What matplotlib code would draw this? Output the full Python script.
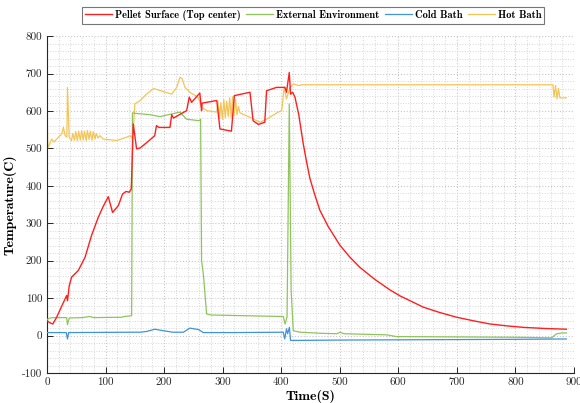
import matplotlib
matplotlib.use("Agg")
import matplotlib.pyplot as plt
from matplotlib.ticker import MultipleLocator

plt.rcParams["axes.unicode_minus"] = False

# Pellet Surface (Top center)
pellet_t = [0, 5, 10, 16.5, 25, 33.6, 35, 38, 42, 53.5, 65, 76, 87.6, 96, 104.7,
            112, 121.8, 129, 135, 140.6, 144, 147.4, 153, 158.8, 170, 184, 187,
            191, 210, 213, 216, 238.5, 243, 247, 261, 264, 265, 290, 295.4, 315,
            320, 346.7, 352, 361, 372, 375, 392, 406.4, 409, 413.8, 416, 419.5,
            423.5, 430, 437.7, 443, 449, 457, 466, 480, 500, 517, 534.5, 560,
            585.7, 603, 642.6, 670, 699.6, 730, 756.5, 785, 813, 850, 887]
pellet_T = [40, 34, 31, 49, 78, 107, 93, 133, 156, 174, 209, 267, 316, 345, 371,
            329, 347, 378, 385, 383, 392, 565, 499, 501, 515, 534, 561,
            556, 556, 590, 581, 601, 637, 623, 648, 601, 621, 628, 552, 546,
            641, 650, 574, 564, 570, 654, 663, 663, 650, 703, 645, 650,
            637, 590, 512, 467, 420, 378, 335, 292, 242, 210, 182, 150,
            122, 106, 76, 62, 49, 39, 31, 26, 22, 19, 17]

# External Environment
env_t = [0, 3, 10, 33.6, 35, 38, 60, 73, 80, 127.5, 132, 144.6, 146, 149, 176,
         193, 227, 238.5, 260, 262.4, 264, 267, 272.6, 280, 340, 403.6, 406.5,
         410, 413.8, 417, 420.6, 432, 470, 495, 501, 507, 580, 597, 700, 800,
         862, 870, 879, 887]
env_T = [42, 46, 48, 48, 29, 47, 48, 51, 48, 49, 51, 53, 595, 594, 590,
         585, 597, 578, 574, 578, 200, 165, 58, 55, 53, 51, 31,
         50, 619, 120, 13, 9, 6, 5, 9, 5, 2, -2.7, -3.5, -4.5,
         -6, 4.5, 7, 7]

# Cold Bath
cold_t = [0, 33, 35, 37, 145, 159, 170, 184, 199, 215, 233, 244, 259, 267, 320,
          403.6, 406, 409, 411, 414, 416, 500, 650, 800, 887]
cold_T = [8, 8, -9, 8, 9, 9, 11, 17, 13, 9, 9, 20, 16, 8, 8,
          9, -9, 18, 5, 22, -13, -12, -11, -10, -9]

# Hot Bath
hot_t = [0, 1.5, 8, 12, 19.4, 25, 28, 31, 34, 35, 38, 42,
         44, 47, 49, 52, 54, 57, 59, 62, 64, 67, 69, 72, 74, 77, 79, 82, 84, 87,
         90.5, 96, 119, 136, 142, 145, 147.4, 150, 159, 170, 182, 213, 221.5,
         227, 231, 235.7, 244, 258, 264, 272.7, 290,
         292, 294.5, 297, 299.5, 302, 304.5, 307, 309.5, 312, 314.5, 317, 319.5,
         322, 324.5, 327, 329.6, 346.7, 363.7, 375, 395, 401, 405, 409, 415,
         420.7, 430, 435, 864, 866, 868.5, 871, 873.5, 876, 887]
hot_T = [610, 501, 525, 517, 530, 538, 556, 534, 530, 663, 530, 521,
         540, 522, 545, 521, 546, 522, 547, 523, 546, 521, 548, 524, 546, 522,
         545, 525, 540, 528,
         534, 525, 521, 530, 534, 528, 547, 619, 628, 645, 660, 645, 663,
         690, 686, 663, 650, 637, 610, 601, 597,
         625, 580, 622, 578, 630, 582, 626, 585, 635, 583, 638, 588,
         630, 590, 612, 595, 583, 570, 578, 597, 601, 663, 632, 663,
         672, 668, 670, 670, 637, 668, 633, 660, 635, 635]

fig = plt.figure(figsize=(5.8, 4.03), dpi=100)
ax = fig.add_axes([0.081, 0.0744, 0.9086, 0.836])

ax.plot(pellet_t, pellet_T, color="#ff1f1f", lw=1.0, label="Pellet Surface (Top center)", zorder=4)
ax.plot(env_t, env_T, color="#8fc45c", lw=0.9, label="External Environment", zorder=3)
ax.plot(cold_t, cold_T, color="#3f93d8", lw=0.9, label="Cold Bath", zorder=3)
ax.plot(hot_t, hot_T, color="#f5c457", lw=0.9, label="Hot Bath", zorder=2)

ax.set_xlim(0, 900)
ax.set_ylim(-100, 800)
ax.xaxis.set_major_locator(MultipleLocator(100))
ax.yaxis.set_major_locator(MultipleLocator(100))
ax.xaxis.set_minor_locator(MultipleLocator(20))
ax.yaxis.set_minor_locator(MultipleLocator(20))
ax.grid(which="major", color="#c8c8c8", ls=":", lw=0.8)
ax.grid(which="minor", color="#d6d6d6", ls=":", lw=0.7)
ax.set_axisbelow(True)

for s in ["top", "right"]:
    ax.spines[s].set_visible(False)
for s in ["left", "bottom"]:
    ax.spines[s].set_color("#262626")
    ax.spines[s].set_linewidth(0.8)
ax.tick_params(which="major", direction="in", length=4, width=0.7,
               colors="#262626", labelsize=8)
ax.tick_params(which="minor", length=0)
for lab in ax.get_xticklabels() + ax.get_yticklabels():
    lab.set_fontfamily("cmr10")

ax.set_xlabel("Time(S)", fontfamily="cmb10", fontsize=10, labelpad=2)
ax.set_ylabel("Temperature(C)", fontfamily="cmb10", fontsize=10, labelpad=4)

leg = fig.legend(loc="center", bbox_to_anchor=(0.54, 0.9615), ncol=4,
                 frameon=True, fancybox=False, edgecolor="#555555",
                 prop={"family": "cmb10", "size": 7.5}, handlelength=2.6,
                 handletextpad=0.3, columnspacing=0.5, borderpad=0.25,
                 borderaxespad=0)
leg.get_frame().set_linewidth(0.8)

fig.savefig("out.png", dpi=100)
